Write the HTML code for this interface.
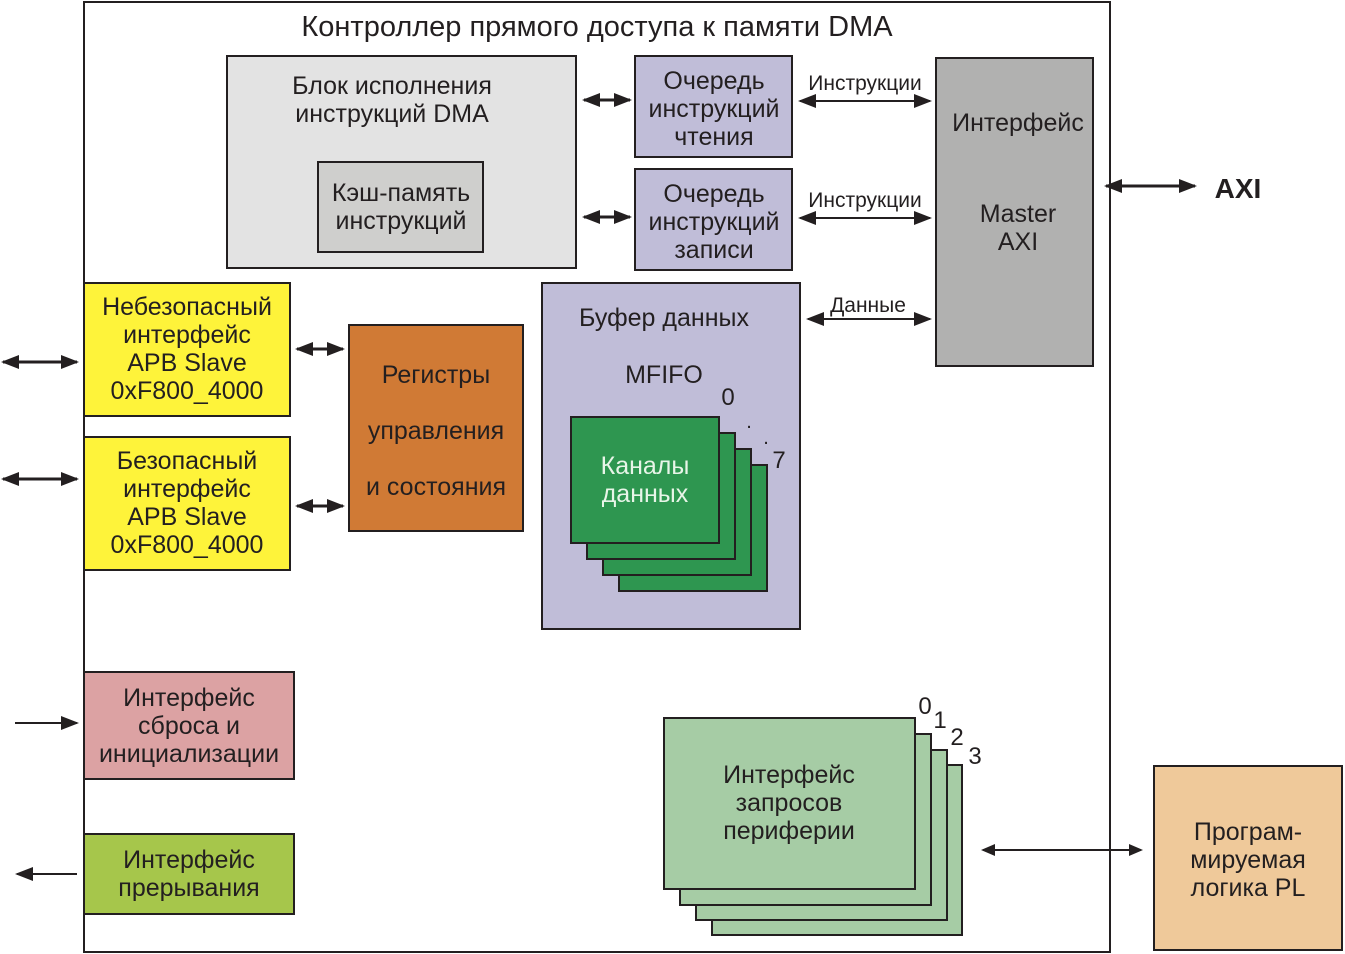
<!DOCTYPE html>
<html><head><meta charset="utf-8"><style>
html,body{margin:0;padding:0;background:#fff}
svg{display:block}
text{font-family:"Liberation Sans","DejaVu Sans",sans-serif;fill:#231f20;text-anchor:middle}
</style></head><body>
<svg width="1345" height="954" viewBox="0 0 1345 954" xmlns="http://www.w3.org/2000/svg">
<defs>
<marker id="a" markerUnits="userSpaceOnUse" markerWidth="18" markerHeight="14" refX="16" refY="7" orient="auto-start-reverse"><path d="M0,0 L18,7 L0,14 Z" fill="#231f20"/></marker>
<marker id="s" markerUnits="userSpaceOnUse" markerWidth="14" markerHeight="12" refX="12" refY="6" orient="auto-start-reverse"><path d="M0,0 L14,6 L0,12 Z" fill="#231f20"/></marker>
</defs>
<g stroke="#231f20" stroke-width="2">
<rect x="84" y="2" width="1026" height="950" fill="#fff"/>
<rect x="227" y="56" width="349" height="212" fill="#e3e3e3"/>
<rect x="318" y="162" width="165" height="90" fill="#cfcfcd"/>
<rect x="635" y="56" width="157" height="101" fill="#c0bdd8"/>
<rect x="635" y="169" width="157" height="101" fill="#c0bdd8"/>
<rect x="936" y="58" width="157" height="308" fill="#b1b1b0"/>
<rect x="84" y="283" width="206" height="133" fill="#fef33a"/>
<rect x="84" y="437" width="206" height="133" fill="#fef33a"/>
<rect x="349" y="325" width="174" height="206" fill="#d07a35"/>
<rect x="542" y="283" width="258" height="346" fill="#c0bdd8"/>
<rect x="619" y="465" width="148" height="126" fill="#2e9650"/>
<rect x="603" y="449" width="148" height="126" fill="#2e9650"/>
<rect x="587" y="433" width="148" height="126" fill="#2e9650"/>
<rect x="571" y="417" width="148" height="126" fill="#2e9650"/>
<rect x="84" y="672" width="210" height="107" fill="#dca2a3"/>
<rect x="84" y="834" width="210" height="80" fill="#a6c64b"/>
<rect x="712" y="765" width="250" height="170" fill="#a6cca5"/>
<rect x="696" y="750" width="251" height="170" fill="#a6cca5"/>
<rect x="680" y="734" width="251" height="171" fill="#a6cca5"/>
<rect x="664" y="718" width="251" height="171" fill="#a6cca5"/>
<rect x="1154" y="766" width="188" height="184" fill="#efc99a"/>
</g>
<g stroke="#231f20" stroke-width="3" fill="none">
<line x1="584" y1="100" x2="630" y2="100" marker-start="url(#a)" marker-end="url(#a)"/>
<line x1="584" y1="217" x2="630" y2="217" marker-start="url(#a)" marker-end="url(#a)"/>
<line x1="800" y1="101" x2="930" y2="101" stroke-width="2" marker-start="url(#a)" marker-end="url(#a)"/>
<line x1="800" y1="218" x2="930" y2="218" stroke-width="2" marker-start="url(#a)" marker-end="url(#a)"/>
<line x1="808" y1="319" x2="930" y2="319" stroke-width="2" marker-start="url(#a)" marker-end="url(#a)"/>
<line x1="1106" y1="186" x2="1195" y2="186" marker-start="url(#a)" marker-end="url(#a)"/>
<line x1="3" y1="362" x2="77" y2="362" marker-start="url(#a)" marker-end="url(#a)"/>
<line x1="3" y1="479" x2="77" y2="479" marker-start="url(#a)" marker-end="url(#a)"/>
<line x1="297" y1="349" x2="343" y2="349" marker-start="url(#a)" marker-end="url(#a)"/>
<line x1="297" y1="506" x2="343" y2="506" marker-start="url(#a)" marker-end="url(#a)"/>
<line x1="15" y1="723" x2="77" y2="723" stroke-width="2" marker-end="url(#a)"/>
<line x1="17" y1="874" x2="77" y2="874" stroke-width="2" marker-start="url(#a)"/>
<line x1="983" y1="850" x2="1141" y2="850" stroke-width="2" marker-start="url(#s)" marker-end="url(#s)"/>
</g>
<text x="597" y="36" font-size="29">Контроллер прямого доступа к памяти DMA</text>
<text x="392" y="94" font-size="25">Блок исполнения</text>
<text x="392" y="122" font-size="25">инструкций DMA</text>
<text x="401" y="201" font-size="25">Кэш-память</text>
<text x="401" y="229" font-size="25">инструкций</text>
<text x="714" y="89" font-size="25">Очередь</text>
<text x="714" y="117" font-size="25">инструкций</text>
<text x="714" y="145" font-size="25">чтения</text>
<text x="714" y="202" font-size="25">Очередь</text>
<text x="714" y="230" font-size="25">инструкций</text>
<text x="714" y="258" font-size="25">записи</text>
<text x="865" y="90" font-size="21">Инструкции</text>
<text x="865" y="207" font-size="21">Инструкции</text>
<text x="868" y="312" font-size="21">Данные</text>
<text x="1018" y="131" font-size="25">Интерфейс</text>
<text x="1018" y="222" font-size="25">Master</text>
<text x="1018" y="250" font-size="25">AXI</text>
<text x="1238" y="198" font-size="28" font-weight="bold">AXI</text>
<text x="187" y="315" font-size="25">Небезопасный</text>
<text x="187" y="343" font-size="25">интерфейс</text>
<text x="187" y="371" font-size="25">APB Slave</text>
<text x="187" y="399" font-size="25">0xF800_4000</text>
<text x="187" y="469" font-size="25">Безопасный</text>
<text x="187" y="497" font-size="25">интерфейс</text>
<text x="187" y="525" font-size="25">APB Slave</text>
<text x="187" y="553" font-size="25">0xF800_4000</text>
<text x="436" y="383" font-size="25">Регистры</text>
<text x="436" y="439" font-size="25">управления</text>
<text x="436" y="495" font-size="25">и состояния</text>
<text x="664" y="326" font-size="25">Буфер данных</text>
<text x="664" y="383" font-size="25">MFIFO</text>
<text x="728" y="405" font-size="24">0</text>
<text x="749" y="428" font-size="20">.</text>
<text x="766" y="444" font-size="20">.</text>
<text x="779" y="468" font-size="24">7</text>
<text x="645" y="474" font-size="25" style="fill:#e8f5e8">Каналы</text>
<text x="645" y="502" font-size="25" style="fill:#e8f5e8">данных</text>
<text x="189" y="706" font-size="25">Интерфейс</text>
<text x="189" y="734" font-size="25">сброса и</text>
<text x="189" y="762" font-size="25">инициализации</text>
<text x="189" y="868" font-size="25">Интерфейс</text>
<text x="189" y="896" font-size="25">прерывания</text>
<text x="789" y="783" font-size="25">Интерфейс</text>
<text x="789" y="811" font-size="25">запросов</text>
<text x="789" y="839" font-size="25">периферии</text>
<text x="925" y="714" font-size="24">0</text>
<text x="940" y="728" font-size="24">1</text>
<text x="957" y="745" font-size="24">2</text>
<text x="975" y="764" font-size="24">3</text>
<text x="1248" y="840" font-size="25">Програм-</text>
<text x="1248" y="868" font-size="25">мируемая</text>
<text x="1248" y="896" font-size="25">логика PL</text>
</svg>
</body></html>
